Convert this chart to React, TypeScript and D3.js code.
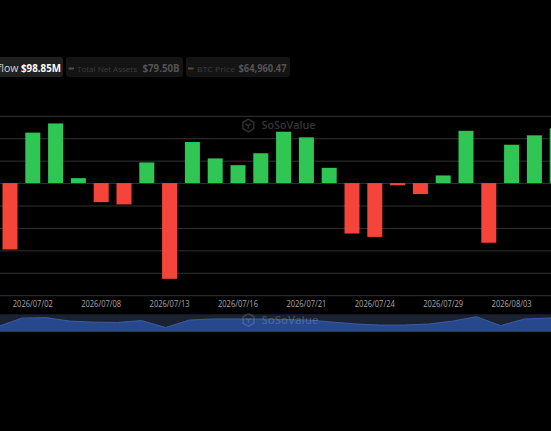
import React from "react";
import * as d3 from "d3";

const W = 551;
const H = 431;

// Trading days (category axis)
const dates = [
  "2026/07/01", "2026/07/02", "2026/07/06", "2026/07/07", "2026/07/08",
  "2026/07/09", "2026/07/10", "2026/07/13", "2026/07/14", "2026/07/15",
  "2026/07/16", "2026/07/17", "2026/07/20", "2026/07/21", "2026/07/22",
  "2026/07/23", "2026/07/24", "2026/07/27", "2026/07/28", "2026/07/29",
  "2026/07/30", "2026/07/31", "2026/08/03", "2026/08/04", "2026/08/05",
];

// Daily total net inflow ($M)
const netInflow = [
  -296, 225, 266, 22, -85, -95, 92, -427, 183, 110,
  80, 133, 229, 204, 68, -225, -240, -10, -49, 34,
  233, -266, 171, 213, 244,
];

// Labels shown on the x axis
const tickLabels = [
  "2026/07/02", "2026/07/08", "2026/07/13", "2026/07/16",
  "2026/07/21", "2026/07/24", "2026/07/29", "2026/08/03",
];

// Data-zoom shadow series (relative level, 0-100)
const zoomShadow = [
  30, 78, 81, 61, 55, 53, 64, 24, 67, 73,
  73, 73, 70, 67, 55, 44, 38, 38, 44, 61,
  86, 35, 73, 78, 81,
];

const gridTicks = [-500, -400, -300, -200, -100, 0, 100, 200, 300];

const legendItems = [
  { label: "Daily Total Net Inflow", value: "$98.85M" },
  { label: "Total Net Assets", value: "$79.50B" },
  { label: "BTC Price", value: "$64,960.47" },
];

const GREEN = "#2fc653";
const RED = "#f5443a";
const FONT = "'Open Sans', 'Noto Sans', sans-serif";

function Logo({ cx, cy, r, color }: { cx: number; cy: number; r: number; color: string }) {
  const pts = d3.range(6).map((k) => {
    const a = (Math.PI / 3) * k - Math.PI / 2;
    return [cx + r * Math.cos(a), cy + r * Math.sin(a)] as [number, number];
  });
  const hex = d3.line()(pts.concat([pts[0]])) || "";
  return (
    <g fill="none" stroke={color} strokeWidth={1.4} strokeLinejoin="round">
      <path d={hex} />
      <path d={`M${cx - r * 0.45},${cy - r * 0.25} L${cx},${cy} L${cx + r * 0.45},${cy - r * 0.25} M${cx},${cy} L${cx},${cy + r * 0.5}`} />
    </g>
  );
}

export default function App() {
  const step = 22.8;
  const x0 = -1.4;
  const x = d3
    .scaleBand<string>()
    .domain(dates)
    .range([x0, x0 + step * dates.length])
    .paddingInner(0.342)
    .paddingOuter(0.171);

  const y = d3.scaleLinear().domain([-500, 300]).range([295.2, 115.8]);

  const sx = d3.scaleLinear().domain([0, 24]).range([-2, 572.3]);
  const sy = d3.scaleLinear().domain([0, 100]).range([331.7, 314.3]);
  const shadowArea = d3
    .area<number>()
    .x((_, i) => sx(i))
    .y0(331.7)
    .y1((d) => sy(d))(zoomShadow) || "";
  const shadowLine = d3
    .line<number>()
    .x((_, i) => sx(i))
    .y((d) => sy(d))(zoomShadow) || "";

  return (
    <div style={{ position: "fixed", left: 0, top: 0, width: W, height: H, background: "#000" }}>
      <svg width={W} height={H} style={{ display: "block" }} fontFamily={FONT}>
        <rect x={0} y={0} width={W} height={H} fill="#000" />

        {/* Legend */}
        <g>
          <rect x={-10} y={57} width={73} height={20} rx={3} fill="#202020" />
          <text x={18.5} y={72} fontSize={10.5} fill="#d8d8d8" textAnchor="end">
            {legendItems[0].label}
          </text>
          <text x={21} y={72} fontSize={10.5} fontWeight={700} fill="#ffffff" textLength={40} lengthAdjust="spacingAndGlyphs">
            {legendItems[0].value}
          </text>

          <rect x={66} y={57} width={117} height={20} rx={3} fill="#141414" />
          <line x1={68.5} x2={74} y1={68.5} y2={68.5} stroke="#4d4d4d" strokeWidth={2} />
          <text x={77} y={72} fontSize={7.5} fill="#3c3c3c" textLength={60} lengthAdjust="spacingAndGlyphs">
            {legendItems[1].label}
          </text>
          <text x={142.5} y={72} fontSize={10} fontWeight={700} fill="#535353" textLength={37} lengthAdjust="spacingAndGlyphs">
            {legendItems[1].value}
          </text>

          <rect x={186} y={57} width={104} height={20} rx={3} fill="#141414" />
          <line x1={188} x2={193.5} y1={68.5} y2={68.5} stroke="#5e4a1c" strokeWidth={2} />
          <text x={197} y={72} fontSize={8} fill="#3c3c3c" textLength={38} lengthAdjust="spacingAndGlyphs">
            {legendItems[2].label}
          </text>
          <text x={238.5} y={72} fontSize={10} fontWeight={700} fill="#535353" textLength={48} lengthAdjust="spacingAndGlyphs">
            {legendItems[2].value}
          </text>
        </g>

        {/* Grid lines */}
        {gridTicks.map((t) => (
          <line key={t} x1={0} x2={W} y1={y(t) + 0.5} y2={y(t) + 0.5} stroke="#333333" strokeWidth={1} />
        ))}

        {/* Watermark */}
        <Logo cx={248.3} cy={125.5} r={6.3} color="#333333" />
        <text x={261.5} y={129.3} fontSize={11} fontWeight={600} fill="#363636" textLength={54} lengthAdjust="spacingAndGlyphs">
          SoSoValue
        </text>

        {/* Bars */}
        {netInflow.map((v, i) => {
          const top = y(Math.max(v, 0));
          const bot = y(Math.min(v, 0));
          return (
            <rect
              key={dates[i]}
              x={x(dates[i])}
              y={top}
              width={x.bandwidth()}
              height={Math.max(1, bot - top)}
              fill={v >= 0 ? GREEN : RED}
            />
          );
        })}

        {/* X axis labels */}
        {tickLabels.map((d) => (
          <text
            key={d}
            x={(x(d) || 0) + x.bandwidth() / 2}
            y={307.3}
            fontSize={9}
            fill="#a8a8a8"
            textAnchor="middle"
            textLength={40}
            lengthAdjust="spacingAndGlyphs"
          >
            {d}
          </text>
        ))}

        {/* Data zoom slider */}
        <rect x={0} y={314.3} width={W} height={17.4} fill="#1a2232" />
        <path d={shadowArea} fill="#27488b" />
        <path d={shadowLine} fill="none" stroke="#3a5ca3" strokeWidth={1} />
        <Logo cx={248.5} cy={320} r={6.3} color="rgba(150,170,210,0.28)" />
        <text x={261.5} y={324} fontSize={11} fontWeight={600} fill="rgba(150,170,210,0.3)" textLength={57} lengthAdjust="spacingAndGlyphs">
          SoSoValue
        </text>
      </svg>
    </div>
  );
}
